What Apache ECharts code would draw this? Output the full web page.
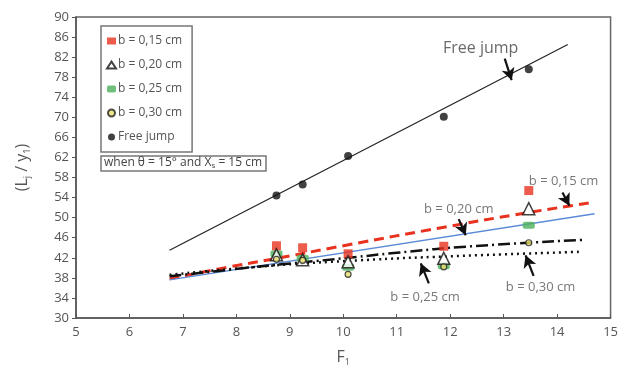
<!DOCTYPE html>
<html>
<head>
<meta charset="utf-8">
<script src="https://cdn.jsdelivr.net/npm/echarts@6/dist/echarts.min.js"></script>
<style>
  html, body { margin: 0; padding: 0; background: #fff; }
  #chart { width: 621px; height: 372px; }
</style>
</head>
<body>
<div id="chart"></div>
<script>
// measured points (F1 on x)
const fValues = [8.75, 9.24, 10.09, 11.88, 13.47];
const b015 = [44.4, 44.0, 42.8, 44.3, 55.4];
const b020 = [42.6, 41.6, 41.2, 41.9, 51.8];
const b025 = [42.8, 41.9, 40.1, 40.4, 48.5];
const b030 = [41.7, 41.5, 38.7, 40.2, 45.0];
const freeJump = [54.4, 56.6, 62.3, 70.1, 79.6];

// trend lines
const fitFreeX = [6.75, 14.2];
const fitFreeY = [43.5, 84.5];
const fit015X = [6.75, 7.87, 8.56, 10.1, 11.78, 13.45, 14.7];
const fit015Y = [37.8, 40.2, 41.5, 44.6, 47.9, 51.0, 53.1];
const fit020X = [6.75, 14.7];
const fit020Y = [37.6, 50.8];
const fitDashDotX = [6.75, 8.2, 10.1, 11.0, 12.4, 14.53];
const fitDashDotY = [38.3, 40.0, 42.0, 43.0, 44.3, 45.6];
const fitDotX = [6.75, 8.5, 10.3, 12.0, 14.46];
const fitDotY = [38.6, 40.3, 41.5, 42.3, 43.2];

// annotations: text + arrow (tail -> tip), data coords
const noteText = ['Free jump', 'b = 0,15 cm', 'b = 0,20 cm', 'b = 0,25 cm', 'b = 0,30 cm'];
const noteX = [12.57, 14.12, 12.16, 11.53, 13.69];
const noteY = [83.8, 57.3, 51.7, 34.1, 36.2];
const arrowFrom = [[13.02, 81.7], [14.10, 55.0], [12.16, 49.7], [11.60, 36.9], [13.56, 38.4]];
const arrowTo = [[13.15, 77.4], [14.23, 52.4], [12.29, 46.5], [11.45, 40.9], [13.41, 42.5]];

const textColor = '#555';
const fontFamily = '"Open Sans", "DejaVu Sans", sans-serif';

const pairs = (xs, ys) => xs.map((x, i) => [x, ys[i]]);

const chart = echarts.init(document.getElementById('chart'));

const fitLine = (xs, ys, lineStyle) => ({
  type: 'line',
  data: pairs(xs, ys),
  smooth: true,
  showSymbol: false,
  silent: true,
  lineStyle: lineStyle,
  z: 2
});

const option = {
  animation: false,
  textStyle: { fontFamily: fontFamily },
  grid: {
    left: 76, right: 9, top: 17, bottom: 50,
    show: true, borderColor: '#666', borderWidth: 1.5
  },
  title: {
    left: 101, top: 155,
    padding: [1, 4, 1, 3],
    borderColor: '#777', borderWidth: 1.5,
    text: 'when \u03b8 = 15\u00b0 and X{sub|s} = 15 cm',
    textStyle: {
      fontSize: 12, fontWeight: 'normal', color: '#444', fontFamily: fontFamily,
      rich: { sub: { fontSize: 8, color: '#444', verticalAlign: 'bottom', padding: [6, 0, 0, 0] } }
    }
  },
  legend: {
    orient: 'vertical',
    left: 101, top: 26,
    padding: [8, 10, 8, 5],
    borderColor: '#777', borderWidth: 1.5,
    itemWidth: 9, itemHeight: 7, itemGap: 10,
    textStyle: { fontSize: 12, color: textColor, lineHeight: 14, padding: [0, 0, 0, -3] },
    data: [
      { name: 'b = 0,15 cm', icon: 'rect' },
      { name: 'b = 0,20 cm', icon: 'triangle' },
      { name: 'b = 0,25 cm', icon: 'roundRect' },
      { name: 'b = 0,30 cm', icon: 'circle' },
      { name: 'Free jump', icon: 'circle' }
    ]
  },
  xAxis: {
    type: 'value', min: 5, max: 15, interval: 1,
    name: 'F{sub|1}', nameLocation: 'middle', nameGap: 30,
    nameTextStyle: {
      fontSize: 16, color: textColor,
      rich: { sub: { fontSize: 9, color: textColor, verticalAlign: 'bottom', padding: [10, 0, 0, 0] } }
    },
    axisLine: { lineStyle: { color: '#555', width: 1.5 } },
    axisTick: { inside: true, length: 4, lineStyle: { color: '#555' } },
    axisLabel: { fontSize: 13, color: textColor, margin: 8 },
    splitLine: { show: false }
  },
  yAxis: {
    type: 'value', min: 30, max: 90, interval: 4,
    name: '(L{sub|j} / y{sub|1})', nameLocation: 'middle', nameGap: 44, nameRotate: 90,
    nameTextStyle: {
      fontSize: 16, color: textColor,
      rich: { sub: { fontSize: 9, color: textColor, verticalAlign: 'bottom', padding: [10, 0, 0, 0] } }
    },
    axisLine: { show: true, lineStyle: { color: '#555', width: 1.5 } },
    axisTick: { show: true, length: 4, lineStyle: { color: '#555' } },
    axisLabel: { fontSize: 13, color: textColor, margin: 7 },
    splitLine: { show: false }
  },
  series: [
    fitLine(fitFreeX, fitFreeY, { color: '#222', width: 1.2 }),
    fitLine(fit015X, fit015Y, { color: '#e8321f', width: 3, type: [10, 6] }),
    fitLine(fit020X, fit020Y, { color: '#5b8ad6', width: 1.5 }),
    fitLine(fitDashDotX, fitDashDotY, { color: '#111', width: 2.5, type: [12, 4, 2, 4] }),
    fitLine(fitDotX, fitDotY, { color: '#111', width: 2.5, type: [2, 4] }),
    {
      name: 'b = 0,15 cm', type: 'scatter', symbol: 'rect', symbolSize: 9,
      data: pairs(fValues, b015), itemStyle: { color: '#e8321f' }, z: 5
    },
    {
      name: 'b = 0,20 cm', type: 'scatter', symbol: 'triangle', symbolSize: 12,
      data: pairs(fValues, b020),
      itemStyle: { color: '#fff', borderColor: '#111', borderWidth: 1.5 }, z: 5
    },
    {
      name: 'b = 0,25 cm', type: 'scatter', symbol: 'roundRect', symbolSize: [12, 7],
      data: pairs(fValues, b025), itemStyle: { color: '#4cb05a' }, z: 4
    },
    {
      name: 'b = 0,30 cm', type: 'scatter', symbol: 'circle', symbolSize: 6,
      data: pairs(fValues, b030),
      itemStyle: { color: '#e8e070', borderColor: '#222', borderWidth: 1.2 }, z: 6
    },
    {
      name: 'Free jump', type: 'scatter', symbol: 'circle', symbolSize: 8,
      data: pairs(fValues, freeJump), itemStyle: { color: '#111' }, z: 5
    },
    {
      type: 'scatter', silent: true, symbolSize: 1,
      itemStyle: { color: 'transparent' },
      data: noteText.map((t, i) => ({ name: t, value: [noteX[i], noteY[i]] })),
      label: {
        show: true, position: 'inside', color: textColor,
        formatter: p => p.name,
        fontSize: 13
      },
      markLine: {
        silent: true, symbol: ['none', 'arrow'], symbolSize: [10, 12],
        label: { show: false },
        lineStyle: { color: '#111', width: 2.2, type: 'solid' },
        data: arrowFrom.map((a, i) => [{ coord: a }, { coord: arrowTo[i] }])
      },
      z: 7
    }
  ]
};

// "Free jump" label is larger in the picture
option.series[option.series.length - 1].data[0].label = { fontSize: 16, color: '#444' };

chart.setOption(option);
</script>
</body>
</html>
